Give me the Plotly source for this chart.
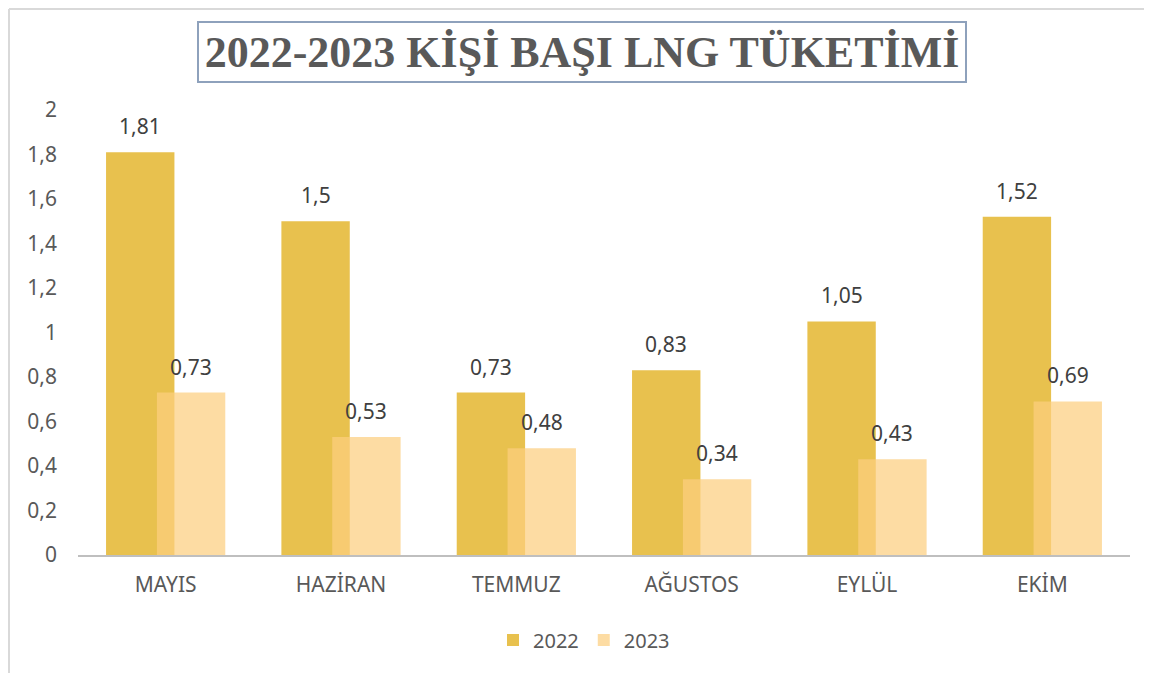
import plotly.graph_objects as go

categories = ["MAYIS", "HAZİRAN", "TEMMUZ", "AĞUSTOS", "EYLÜL", "EKİM"]
series_names = ["2022", "2023"]
values_2022 = [1.81, 1.5, 0.73, 0.83, 1.05, 1.52]
values_2023 = [0.73, 0.53, 0.48, 0.34, 0.43, 0.69]
y_ticks = [0, 0.2, 0.4, 0.6, 0.8, 1.0, 1.2, 1.4, 1.6, 1.8, 2.0]
title_text = "2022-2023 KİŞİ BAŞI LNG TÜKETİMİ"

# page is offset by the default 8px body margin
OFF = 8
W, H = 1152 - OFF, 673 - OFF
L, R, T = 78 - OFF, 22, 110 - OFF
B = H - (555 - OFF)
pw, ph = W - L - R, H - T - B

def px_x(px):  # px in page coordinates
    return (px - OFF - L) / pw

def px_y(py):
    return (H - B - (py - OFF)) / ph

font_family = "Noto Sans, Open Sans, sans-serif"
bar_width = 0.39
offsets = [-0.34, -0.05]
colors = ["#E8C14E", "rgba(252,206,128,0.72)"]

fig = go.Figure()
for name, vals, off, col in zip(series_names, [values_2022, values_2023], offsets, colors):
    fig.add_trace(go.Bar(
        x=categories, y=vals, name=name,
        width=bar_width, offset=off,
        marker=dict(color=col, line=dict(width=0)),
        hoverinfo="skip",
    ))

annotations = []
for vals, off in zip([values_2022, values_2023], offsets):
    for i, v in enumerate(vals):
        annotations.append(dict(
            x=i + off + bar_width / 2, y=v, xref="x", yref="y",
            text=f"{v:g}".replace(".", ","), showarrow=False,
            yanchor="bottom", yshift=10,
            font=dict(family=font_family, size=21, color="#404040"),
        ))

annotations.append(dict(
    x=px_x(582), y=px_y(52), xref="paper", yref="paper",
    xanchor="center", yanchor="middle",
    text=f"<b>{title_text}</b>", showarrow=False,
    font=dict(family="Liberation Serif, DejaVu Serif, serif", size=44, color="#595959"),
    bordercolor="#8EA1BC", borderwidth=2, borderpad=0,
    width=766, height=58, bgcolor="white",
))

shapes = [
    dict(type="line", xref="paper", yref="paper",
         x0=px_x(OFF + 1), x1=px_x(OFF + 1), y0=px_y(OFF + 1), y1=px_y(700),
         line=dict(color="#D9D9D9", width=2)),
    dict(type="line", xref="paper", yref="paper",
         x0=px_x(OFF + 1), x1=px_x(1200), y0=px_y(OFF + 1), y1=px_y(OFF + 1),
         line=dict(color="#D9D9D9", width=2)),
]

fig.update_layout(
    width=W, height=H,
    margin=dict(l=L, r=R, t=T, b=B),
    paper_bgcolor="white", plot_bgcolor="white",
    barmode="overlay",
    separators=", ",
    showlegend=True,
    legend=dict(orientation="h", x=px_x(584), y=px_y(640), xanchor="center", yanchor="middle",
                font=dict(family=font_family, size=20, color="#595959"),
                itemwidth=30, tracegroupgap=0),
    annotations=annotations,
    shapes=shapes,
    xaxis=dict(
        range=[-0.5, 5.5], showgrid=False, showline=True,
        linecolor="#BFBFBF", linewidth=2, ticks="",
        tickfont=dict(family=font_family, size=21, color="#595959"),
        ticklabelstandoff=10,
    ),
    yaxis=dict(
        range=[0, 2], tickvals=y_ticks, showgrid=False, showline=False,
        zeroline=False, ticks="",
        tickfont=dict(family=font_family, size=21, color="#595959"),
        ticklabelstandoff=20,
    ),
)

fig.write_html("out.html")
